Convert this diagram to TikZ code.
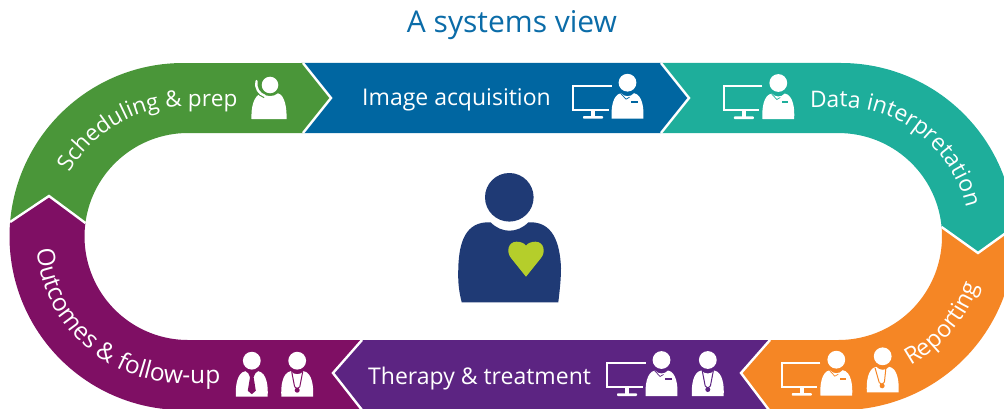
\documentclass[tikz,border=0pt]{standalone}
\usepackage{fontspec}
\setmainfont{Open Sans}
\usetikzlibrary{decorations.text}
\definecolor{cgreen}{HTML}{4A9639}
\definecolor{cblue}{HTML}{0066A1}
\definecolor{cteal}{HTML}{1EAE9B}
\definecolor{corange}{HTML}{F58625}
\definecolor{cpurple}{HTML}{5C2482}
\definecolor{cmag}{HTML}{7F0F64}
\definecolor{cnavy}{HTML}{1F3A75}
\definecolor{cheart}{HTML}{B5CE2B}
\definecolor{ctitle}{HTML}{0B6CA8}
\newcommand{\bandfont}[1]{\fontsize{#1}{24}\selectfont}
\tikzset{
  seam/.style={draw=white,line width=2.4pt,miter limit=10},
  bandtext/.style={text=white,font=\bandfont{23},anchor=base west,inner sep=0pt},
  curvetext/.style={decorate,decoration={text along path,text color=white,text align={left},text format delimiters={|}{|},text={#1}}},
  pics/bodyshape/.style={code={
    \fill[white] (0,36) circle (8.9);
    \fill[white] (-15.8,0) .. controls (-16.6,10) and (-15,24) .. (-6.5,25.5) .. controls (-3,21.5) and (3,21.5) .. (6.5,25.5) .. controls (15,24) and (16.6,10) .. (15.8,0) -- cycle;
  }},
  pics/nurse/.style={code={
    \pic {bodyshape};
    \draw[#1,line width=.7pt] (-7,25.5) -- (-1.5,19.5) -- (2,21.5);
    \fill[#1] (3.3,16) rectangle (10,18);
  }},
  pics/doctor/.style={code={
    \pic {bodyshape};
    \draw[#1,line width=1pt] (-5.5,25) -- (-2.6,10) (5.5,25) -- (2.6,10);
    \draw[#1,line width=1pt] (-2.6,10) -- (0,8) -- (2.6,10);
    \fill[#1] (0,6.5) circle (2.5);
  }},
  pics/tieman/.style={code={
    \pic {bodyshape};
    \fill[#1] (-3.5,23.5) -- (3.5,23.5) -- (1.8,19.5) -- (4,6) -- (0,2.5) -- (-4,6) -- (-1.8,19.5) -- cycle;
  }},
  pics/monitor/.style={code={
    \draw[white,line width=2.4pt] (-16,32.8) -- (-54.4,32.8) -- (-54.4,9) -- (-19,9);
    \fill[white] (-36.5,9) rectangle (-32.5,2);
    \fill[white,rounded corners=.8pt] (-44.5,0) rectangle (-24.5,2.6);
  }},
  pics/caller/.style={code={
    \fill[white] (1,34) circle (8.3);
    \fill[white] (-17.5,0) .. controls (-18,10) and (-16,24) .. (-7,25.7) .. controls (-3,22) and (5,22) .. (9,25.7) .. controls (16,24) and (18,10) .. (17.5,0) -- cycle;
    \draw[#1,line width=4.6pt] (-12.5,37) .. controls (-14,31) and (-10,25) .. (-4,23);
    \draw[white,line width=2.4pt,line cap=round] (-12.5,38) .. controls (-14,31) and (-10,25) .. (-4,23);
  }},
}
\begin{document}
\begin{tikzpicture}[x=1pt,y=1pt]
\useasboundingbox (0,0) rectangle (1004,408);
\clip (0,0) rectangle (1004,408);
% ribbon segments
\fill[cgreen] (10.1,186) arc[start angle=175.2,end angle=90,radius=173.5] -- (303,345) -- (331,310) -- (303,275) -- (188,275) arc[start angle=90,end angle=172.5,radius=103.5] -- (49,212) -- cycle;
\fill[cblue] (303,345) -- (661,345) -- (689,310) -- (661,275) -- (303,275) -- (331,310) -- cycle;
\fill[cteal] (661,345) -- (841,345) arc[start angle=90,end angle=3.5,radius=173.5] -- (978,155) -- (941.6,181) arc[start angle=5.3,end angle=90,radius=103.5] -- (661,275) -- (689,310) -- cycle;
\fill[corange] (1014.2,182) arc[start angle=3.5,end angle=-90,radius=173.5] -- (769,-2) -- (741,35) -- (770,68) -- (838.5,68) arc[start angle=-90,end angle=5.3,radius=103.5] -- (978,155) -- cycle;
\fill[cpurple] (769,-2) -- (362,-2) -- (333,35) -- (362,68) -- (770,68) -- (741,35) -- cycle;
\fill[cmag] (362,-2) -- (183,-2) arc[start angle=270,end angle=175.2,radius=173.5] -- (49,212) -- (85.4,185) arc[start angle=172.5,end angle=270,radius=103.5] -- (362,68) -- (333,35) -- cycle;
% seams
\draw[seam] (303,345) -- (331,310) -- (303,275);
\draw[seam] (661,345) -- (689,310) -- (661,275);
\draw[seam] (1014.2,181) -- (978,155) -- (941.6,181);
\draw[seam] (769,-2) -- (741,35) -- (770,68);
\draw[seam] (362,-2) -- (333,35) -- (362,68);
\draw[seam] (10.1,186) -- (49,212) -- (85.4,185);
% title
\node[text=ctitle,font=\fontsize{30}{32}\selectfont,anchor=base,inner sep=0pt] (title) at (512,375) {A systems view};
% straight labels
\node[bandtext] (imgacq) at (362,302) {Image acquisition};
\node[bandtext] (therapy) at (368,24) {Therapy \& treatment};
% curved labels
\path[curvetext={|\bandfont{22.5}|Scheduling {\&} prep}] (69.6,235.1) arc[start angle=150.7,end angle=90,radius=130] -- (300,300.5);
\path[curvetext={|\bandfont{22.8}|Data interpretation}] (810,301) -- (840,301) arc[start angle=90,end angle=-20,radius=129.5];
\path[curvetext={|\bandfont{23.5}|Reporting}] (910.4,42.5) arc[start angle=-61.4,end angle=10,radius=147];
\path[curvetext={|\bandfont{24.5}|Outcomes {\&} follow-up}] (36.6,158.7) arc[start angle=185,end angle=270,radius=147] -- (300,24.5);
% icons
\pic at (269,289) {caller=cgreen};
\pic at (627.5,289.3) {monitor};
\pic at (627.5,289.3) {nurse=cblue};
\pic at (778.3,289) {monitor};
\pic at (778.3,289) {nurse=cteal};
\pic at (836.3,12.3) {monitor};
\pic at (836.3,12.3) {nurse=corange};
\pic[rotate=5] at (882.7,15.7) {doctor=corange};
\pic at (661.5,12) {monitor};
\pic at (661.5,12) {nurse=cpurple};
\pic at (707.8,12) {doctor=cpurple};
\pic at (251.8,11.3) {tieman=cmag};
\pic at (297.2,11.3) {doctor=cmag};
% central figure
\fill[cnavy] (509.3,210.7) circle (24.3);
\fill[cnavy] (461.7,105.7) .. controls (458,120) and (458,130) .. (458.3,140) .. controls (459,165) and (465,187) .. (490.7,185.7) .. controls (496,180) and (503,177.3) .. (509.3,177.3) .. controls (516,177.3) and (523,180) .. (528.3,185.7) .. controls (553,187) and (560,165) .. (561,140) .. controls (561,130) and (560,120) .. (558.3,105.7) -- cycle;
\fill[cheart] (526,131.3) -- (511,150) .. controls (506,156) and (508,166.3) .. (516.5,166.3) .. controls (520.5,166.3) and (524,165) .. (526,162.5) .. controls (528,165) and (531.5,166.3) .. (535.5,166.3) .. controls (544,166.3) and (546,156) .. (541,150) -- cycle;
\end{tikzpicture}
\end{document}
